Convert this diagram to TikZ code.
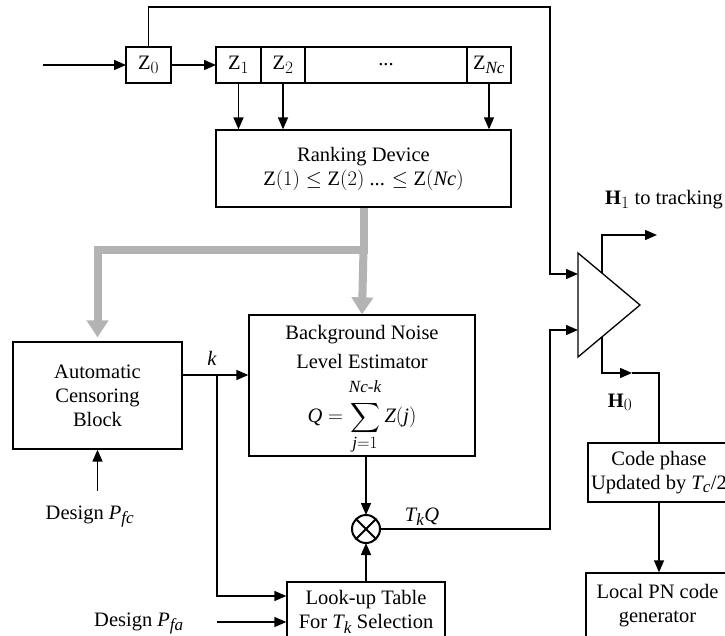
\documentclass[tikz,border=0pt]{standalone}
\usepackage{amsmath}
\usepackage{fontspec}
\setmainfont{Liberation Serif}
\usepackage[italic]{mathastext}
\usetikzlibrary{positioning, arrows.meta, calc}
\definecolor{feed}{HTML}{B3B3B3}
\tikzset{
  block/.style={
    draw, line width=1.3pt,
    align=center, inner sep=0pt
  },
  cell/.style={
    draw, line width=1.3pt, outer sep=0pt,
    minimum height=36pt, inner sep=0pt
  },
  sig/.style={-{Triangle[length=12pt,width=10pt]}, line width=1.4pt},
  wide/.style={-{Triangle[length=17pt,width=21pt]}, line width=8pt, color=feed},
  lbl/.style={inner sep=1pt, anchor=base}
}

\begin{document}
\begin{tikzpicture}[x=1pt, y=-1pt, node distance=0pt, font=\fontsize{20.5}{24}\selectfont]
  \useasboundingbox (0,0) rectangle (725,636);
  \clip (0,0) rectangle (725,636);

  % Delay line
  \coordinate (src) at (43,65);
  \node[cell, minimum width=45pt] (z0) at (148.5,65) {$\mathrm{Z}_0$};
  \node[cell, minimum width=45pt, anchor=west] (z1) at (216,65) {$\mathrm{Z}_1$};
  \node[cell, minimum width=44pt, right=of z1] (z2) {$\mathrm{Z}_2$};
  \node[cell, minimum width=162pt, right=of z2] (zdots) {...};
  \node[cell, minimum width=44pt, right=of zdots] (znc) {$\mathrm{Z}_{Nc}$};

  % Blocks
  \node[block, minimum width=295pt, minimum height=77pt] (rank) at (363.5,168.5)
    {Ranking Device\\$\mathrm{Z}(1)\le\mathrm{Z}(2)$ ... $\le\mathrm{Z}(Nc)$};
  \node[block, minimum width=169pt, minimum height=107pt] (acb) at (97.5,395.5)
    {Automatic\\Censoring\\Block};
  \node[block, minimum width=226pt, minimum height=141pt] (bnle) at (362,385.5)
    {Background Noise\\[5pt]Level Estimator\\[9pt]%
     \raisebox{0pt}[\height][\dimexpr\depth-9pt\relax]{$\displaystyle Q=\sum_{j=1}^{Nc\text{-}k\rule[-6pt]{0pt}{0pt}}Z(j)$}};
  \node[draw, circle, line width=2pt, outer sep=0pt, minimum size=28pt, inner sep=0pt] (mult) at (366,529) {};
  \node[block, minimum width=158pt, minimum height=60pt] (lut) at (366,612)
    {Look-up Table\\For $T_k$ Selection};
  \node[block, inner xsep=0pt, minimum width=142pt, minimum height=59pt] (code) at (659,472.5)
    {Code phase\\Updated by $T_c$/2};
  \node[block, minimum width=143pt, minimum height=66pt] (pn) at (657.5,606)
    {Local PN code\\generator};

  % Labels
  \node[lbl] (kl) at (212,365) {$k$};
  \node[lbl] (tkq) at (422,521) {$T_kQ$};
  \node[lbl] (pfc) at (90,519) {Design $P_{fc}$};
  \node[lbl] (pfa) at (139,626) {Design $P_{fa}$};
  \node[lbl] (h1l) at (664,205) {$\mathbf{H}_1$ to tracking};
  \node[lbl] (h0l) at (620,407) {$\mathbf{H}_0$};

  % Comparator
  \coordinate (cmpt) at (578,253);
  \coordinate (cmpb) at (578,357);
  \coordinate (cmpx) at (640,305);
  \draw[line width=1.3pt] (cmpt) -- (cmpx) -- (cmpb) -- cycle;
  \coordinate (cin1) at (578,274);
  \coordinate (cin2) at (578,330);
  \coordinate (h1s) at ($(cmpt)!0.39!(cmpx)$);
  \coordinate (h0s) at ($(cmpb)!0.39!(cmpx)$);
  \coordinate (h1e) at (657,235);
  \coordinate (h0m) at (632,373);

  % Signal flow
  \draw[sig] (src) -- (z0.west);
  \draw[sig] (z0.east) -- (z1.west);
  \foreach \c in {z1,z2,znc}
    \draw[sig] (\c.south) -- (\c.south |- rank.north);
  \draw[sig] (z0.north) -- ++(0,-40) -| ($(cin1)+(-28,0)$) -- (cin1);

  % Ordered samples
  \draw[wide, shorten >=4pt] (rank.south) -- ++(0,42) coordinate (split) -| (acb.north);
  \draw[wide] (split) -- (bnle.north);

  % Censoring index
  \coordinate (ksplit) at (217,375);
  \draw[sig] (acb.east |- ksplit) -- (bnle.west |- ksplit);
  \draw[sig] (ksplit) |- ($(lut.west)+(0,-16)$);
  \coordinate (fa) at ($(lut.west)+(0,10)$);
  \draw[sig] (fa -| ksplit) -- (fa);
  \draw[sig] (acb.south |- pfc.north) ++(0,-13) -- (acb.south);

  % Threshold
  \draw[sig] (mult.north |- bnle.south) -- (mult.north);
  \draw[sig] (lut.north) -- (mult.south);
  \draw[line width=2pt] (mult.north east) -- (mult.south west)
    (mult.north west) -- (mult.south east);
  \draw[sig] (mult.east) -| ($(cin2)+(-28,0)$) -- (cin2);

  % Decisions
  \draw[sig] (h1s) |- (h1e);
  \draw[sig] (h0s) |- (h0m);
  \draw[line width=1.4pt] (h0m) -| (code.north);
  \draw[sig] (code.south) -- (code.south |- pn.north);
\end{tikzpicture}
\end{document}
